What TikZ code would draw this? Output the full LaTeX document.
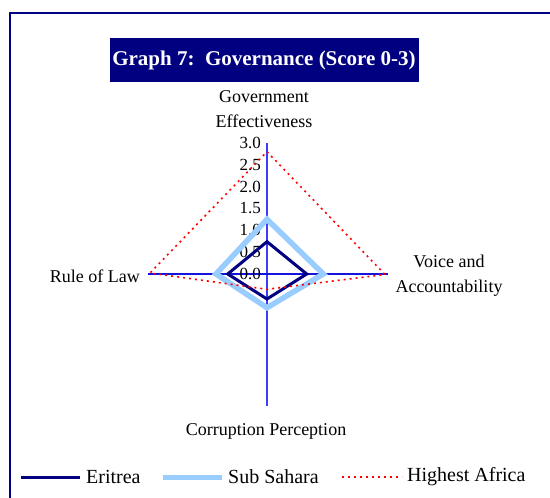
\documentclass[tikz,border=0pt]{standalone}
\usepackage{fontspec}
\setmainfont{Liberation Serif}
\definecolor{navyc}{RGB}{0,0,128}
\definecolor{skyc}{RGB}{153,204,255}
\definecolor{axisv}{RGB}{60,60,255}
\definecolor{axish}{RGB}{20,20,220}
\definecolor{redc}{RGB}{255,0,0}
\tikzset{
  lbl/.style={inner sep=0pt, font=\fontsize{18}{25}\selectfont, align=center, text=black},
  tick/.style={inner sep=0pt, anchor=east, font=\fontsize{17}{19}\selectfont},
  legtxt/.style={inner sep=0pt, anchor=west, font=\fontsize{20}{22}\selectfont},
  eri/.style={draw=navyc, line width=3pt, line join=miter},
  ssa/.style={draw=skyc, line width=5.5pt, line join=miter},
  hia/.style={draw=redc, line width=1.6pt, dash pattern=on 2pt off 4pt},
}
\begin{document}
\begin{tikzpicture}[x=1pt,y=-1pt]
\useasboundingbox (0,0) rectangle (550,498);
\clip (0,0) rectangle (550,498);
% outer frame
\draw[navyc, line width=1.6pt] (9.8,12.8) rectangle (600,600);
% title
\node[fill=navyc, text=white, inner sep=0pt, minimum width=309pt, minimum height=44pt,
      font=\fontsize{21}{23}\selectfont\bfseries] (title) at (264,60) {Graph 7:\ \ Governance (Score 0-3)};
% axes
\coordinate (c) at (267,274);
\coordinate (atop) at (267,143);
\coordinate (abot) at (267,406);
\coordinate (aleft) at (148,274);
\coordinate (aright) at (388,274);
\draw[axisv, line width=1.3pt] (atop) -- (abot);
\draw[axish, line width=1.3pt] (aleft) -- (aright);
% tick labels
\node[tick] (t0) at (261,274) {0.0};
\node[tick] (t1) at (261,252.2) {0.5};
\node[tick] (t2) at (261,230.3) {1.0};
\node[tick] (t3) at (261,208.5) {1.5};
\node[tick] (t4) at (261,186.7) {2.0};
\node[tick] (t5) at (261,164.8) {2.5};
\node[tick] (t6) at (261,143) {3.0};
% category labels
\node[lbl] (ge) at (264,109.5) {Government\\Effectiveness};
\node[lbl] (va) at (449,275.5) {Voice and\\Accountability};
\node[lbl, anchor=east] (rl) at (140,276) {Rule of Law};
\node[lbl] (cp) at (266,431) {Corruption Perception};
% Sub Sahara
\coordinate (s1) at (267,219.3);
\coordinate (s2) at (323.3,274);
\coordinate (s3) at (267,307.7);
\coordinate (s4) at (216,274);
\draw[ssa] (s1) -- (s2) -- (s3) -- (s4) -- cycle;
% Eritrea
\coordinate (e1) at (267,241.7);
\coordinate (e2) at (306.7,274);
\coordinate (e3) at (267,299);
\coordinate (e4) at (227.7,274);
\draw[eri] (e1) -- (e2) -- (e3) -- (e4) -- cycle;
% Highest Africa
\coordinate (h1) at (267,151.7);
\coordinate (h2) at (385,274.5);
\coordinate (h3) at (267,289.3);
\coordinate (h4) at (150,273);
\draw[hia] (h1) -- (h2) -- (h3) -- (h4) -- cycle;
% legend
\coordinate (l1a) at (21,477); \coordinate (l1b) at (80,477);
\coordinate (l2a) at (163,477); \coordinate (l2b) at (222,477);
\coordinate (l3a) at (342,477); \coordinate (l3b) at (402,477);
\draw[eri] (l1a) -- (l1b);
\draw[ssa, line width=5pt] (l2a) -- (l2b);
\draw[hia] (l3a) -- (l3b);
\node[legtxt] (le) at (86,477) {Eritrea};
\node[legtxt] (ls) at (228,477) {Sub Sahara};
\node[legtxt] (lh) at (407,477) {Highest Africa};
\end{tikzpicture}
\end{document}
